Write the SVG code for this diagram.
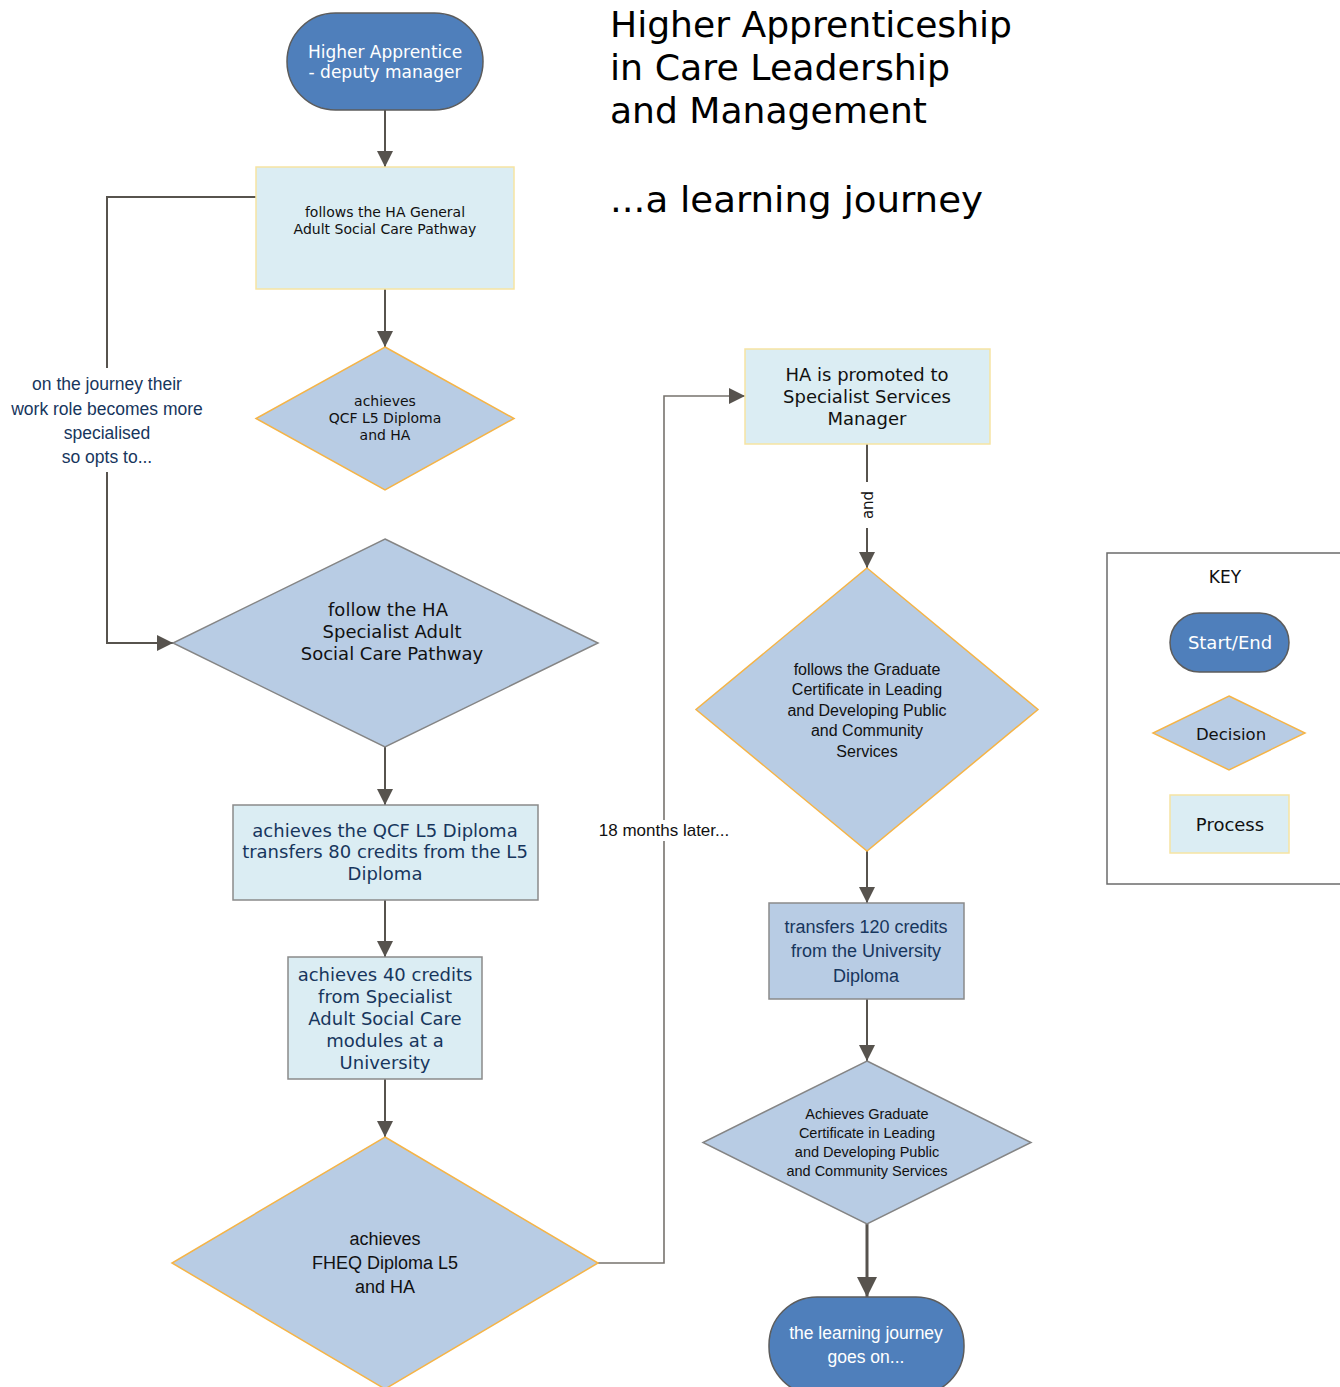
<svg xmlns="http://www.w3.org/2000/svg" width="1340" height="1387" viewBox="0 0 1340 1387">
  <defs>
    <marker id="arrow" viewBox="0 0 16 16" refX="16" refY="8" markerWidth="16" markerHeight="17" markerUnits="userSpaceOnUse" orient="auto">
      <path d="M0,0 L16,8 L0,16 z" fill="#57534e"/>
    </marker>
    <marker id="arrow-big" viewBox="0 0 20 20" refX="20" refY="10" markerWidth="22" markerHeight="20" markerUnits="userSpaceOnUse" orient="auto">
      <path d="M0,0 L20,10 L0,20 z" fill="#57534e"/>
    </marker>
  </defs>
  <style>
    .terminal { fill: #4f7fbb; stroke: #5c5c5c; stroke-width: 1.5; }
    .proc-y { fill: #dbedf3; stroke: #f6e4a2; stroke-width: 1.5; }
    .proc-g { fill: #dbedf3; stroke: #8a8a8a; stroke-width: 1.5; }
    .proc-b { fill: #b8cce4; stroke: #8a8a8a; stroke-width: 1.5; }
    .dec-o { fill: #b8cce4; stroke: #f5b447; stroke-width: 1.5; }
    .dec-g { fill: #b8cce4; stroke: #858585; stroke-width: 1.5; }
    .conn { fill: none; stroke: #57534e; stroke-width: 2; }
    .conn-thin { fill: none; stroke: #77736e; stroke-width: 1.6; }
    .conn-thick { fill: none; stroke: #57534e; stroke-width: 3; }
    .v { font-family: "DejaVu Sans", Verdana, sans-serif; text-anchor: middle; }
    .a { font-family: "Liberation Sans", Arial, sans-serif; text-anchor: middle; }
    .black { fill: #111111; }
    .navy { fill: #17365d; }
    .white { fill: #ffffff; }
    .title { font-family: "DejaVu Sans", Verdana, sans-serif; font-size: 36px; fill: #000000; }
  </style>

  <rect width="1340" height="1387" fill="#ffffff"/>

  <!-- heading -->
  <g id="title">
    <text class="title" x="610" y="37" textLength="402" lengthAdjust="spacingAndGlyphs">Higher Apprenticeship</text>
    <text class="title" x="610" y="80" textLength="340" lengthAdjust="spacingAndGlyphs">in Care Leadership</text>
    <text class="title" x="610" y="123" textLength="317" lengthAdjust="spacingAndGlyphs">and Management</text>
    <text class="title" x="610" y="212" textLength="373" lengthAdjust="spacingAndGlyphs">...a learning journey</text>
  </g>

  <!-- connectors -->
  <g id="connectors">
    <path class="conn" d="M385,110 V167" marker-end="url(#arrow)"/>
    <path class="conn" d="M385,289 V347" marker-end="url(#arrow)"/>
    <path class="conn" d="M256,197 H107 V368 M107,472 V643 H173" marker-end="url(#arrow)" stroke-width="2.5"/>
    <path class="conn" d="M385,747 V805" marker-end="url(#arrow)"/>
    <path class="conn" d="M385,900 V957" marker-end="url(#arrow)"/>
    <path class="conn" d="M385,1079 V1137" marker-end="url(#arrow)"/>
    <path class="conn-thin" d="M598,1263 H664 V396 H745" marker-end="url(#arrow)"/>
    <path class="conn" d="M867,444 V482 M867,528 V568" marker-end="url(#arrow)"/>
    <path class="conn" d="M867,851 V903" marker-end="url(#arrow)"/>
    <path class="conn" d="M867,999 V1061" marker-end="url(#arrow)"/>
    <path class="conn-thick" d="M867,1224 V1297" marker-end="url(#arrow-big)"/>

    <g id="label-specialised">
      <text class="a navy" font-size="17.5" x="107" y="390">on the journey their</text>
      <text class="a navy" font-size="17.5" x="107" y="415">work role becomes more</text>
      <text class="a navy" font-size="17.5" x="107" y="439">specialised</text>
      <text class="a navy" font-size="17.5" x="107" y="463">so opts to...</text>
    </g>
    <g id="label-18-months">
      <rect x="592" y="820" width="144" height="21" fill="#ffffff"/>
      <text class="a black" font-size="17" x="664" y="836">18 months later...</text>
    </g>
    <g id="label-and">
      <text class="v black" font-size="15" transform="translate(873,505) rotate(-90)">and</text>
    </g>
  </g>

  <!-- left column -->
  <g id="start">
    <rect class="terminal" x="287" y="13" width="196" height="97" rx="48.5"/>
    <text class="v white" font-size="17" x="385" y="58">Higher Apprentice</text>
    <text class="v white" font-size="17" x="385" y="78">- deputy manager</text>
  </g>

  <g id="general-pathway">
    <rect class="proc-y" x="256" y="167" width="258" height="122"/>
    <text class="v black" font-size="14" x="385" y="217">follows the HA General</text>
    <text class="v black" font-size="14" x="385" y="234">Adult Social Care Pathway</text>
  </g>

  <g id="qcf-diploma-ha">
    <polygon class="dec-o" points="385,347 514,418.5 385,490 256,418.5"/>
    <text class="v black" font-size="14" x="385" y="406">achieves</text>
    <text class="v black" font-size="14" x="385" y="423">QCF L5 Diploma</text>
    <text class="v black" font-size="14" x="385" y="440">and HA</text>
  </g>

  <g id="specialist-pathway">
    <polygon class="dec-g" points="385,539 598,643 385,747 173,643"/>
    <text class="v black" font-size="18" x="388" y="616">follow the HA</text>
    <text class="v black" font-size="18" x="392" y="638">Specialist Adult</text>
    <text class="v black" font-size="18" x="392" y="660">Social Care Pathway</text>
  </g>

  <g id="transfer-80">
    <rect class="proc-g" x="233" y="805" width="305" height="95"/>
    <text class="v navy" font-size="18" x="385" y="837">achieves the QCF L5 Diploma</text>
    <text class="v navy" font-size="18" x="385" y="858">transfers 80 credits from the L5</text>
    <text class="v navy" font-size="18" x="385" y="880">Diploma</text>
  </g>

  <g id="credits-40">
    <rect class="proc-g" x="288" y="957" width="194" height="122"/>
    <text class="v navy" font-size="18" x="385" y="981">achieves 40 credits</text>
    <text class="v navy" font-size="18" x="385" y="1003">from Specialist</text>
    <text class="v navy" font-size="18" x="385" y="1025">Adult Social Care</text>
    <text class="v navy" font-size="18" x="385" y="1047">modules at a</text>
    <text class="v navy" font-size="18" x="385" y="1069">University</text>
  </g>

  <g id="fheq-diploma">
    <polygon class="dec-o" points="385,1137 598,1263 385,1389 172,1263"/>
    <text class="a black" font-size="18" x="385" y="1245">achieves</text>
    <text class="a black" font-size="18" x="385" y="1269">FHEQ Diploma L5</text>
    <text class="a black" font-size="18" x="385" y="1293">and HA</text>
  </g>

  <!-- right column -->
  <g id="promoted">
    <rect class="proc-y" x="745" y="349" width="245" height="95"/>
    <text class="v black" font-size="18" x="867" y="381">HA is promoted to</text>
    <text class="v black" font-size="18" x="867" y="403">Specialist Services</text>
    <text class="v black" font-size="18" x="867" y="425">Manager</text>
  </g>

  <g id="graduate-certificate">
    <polygon class="dec-o" points="867,568 1038,709.5 867,851 696,709.5"/>
    <text class="a black" font-size="16" x="867" y="675">follows the Graduate</text>
    <text class="a black" font-size="16" x="867" y="695">Certificate in Leading</text>
    <text class="a black" font-size="16" x="867" y="716">and Developing Public</text>
    <text class="a black" font-size="16" x="867" y="736">and Community</text>
    <text class="a black" font-size="16" x="867" y="757">Services</text>
  </g>

  <g id="transfer-120">
    <rect class="proc-b" x="769" y="903" width="195" height="96"/>
    <text class="a navy" font-size="18" x="866" y="933">transfers 120 credits</text>
    <text class="a navy" font-size="18" x="866" y="957">from the University</text>
    <text class="a navy" font-size="18" x="866" y="982">Diploma</text>
  </g>

  <g id="achieves-certificate">
    <polygon class="dec-g" points="867,1061 1031,1142.5 867,1224 703,1142.5"/>
    <text class="a black" font-size="14.5" x="867" y="1119">Achieves Graduate</text>
    <text class="a black" font-size="14.5" x="867" y="1138">Certificate in Leading</text>
    <text class="a black" font-size="14.5" x="867" y="1157">and Developing Public</text>
    <text class="a black" font-size="14.5" x="867" y="1176">and Community Services</text>
  </g>

  <g id="end">
    <rect class="terminal" x="769" y="1297" width="195" height="98" rx="48"/>
    <text class="a white" font-size="17.5" x="866" y="1339">the learning journey</text>
    <text class="a white" font-size="17.5" x="866" y="1363">goes on...</text>
  </g>

  <!-- legend -->
  <g id="key">
    <rect x="1107" y="553" width="240" height="331" fill="#ffffff" stroke="#6b6b6b" stroke-width="1.5"/>
    <text class="v black" font-size="17" x="1225" y="583">KEY</text>
    <rect class="terminal" x="1170" y="613" width="119" height="59" rx="29.5"/>
    <text class="v white" font-size="18" x="1230" y="649">Start/End</text>
    <polygon class="dec-o" points="1229,696 1305,733 1229,770 1153,733"/>
    <text class="v black" font-size="16.5" x="1231" y="740">Decision</text>
    <rect class="proc-y" x="1170" y="795" width="119" height="58"/>
    <text class="v black" font-size="18" x="1230" y="831">Process</text>
  </g>
</svg>
